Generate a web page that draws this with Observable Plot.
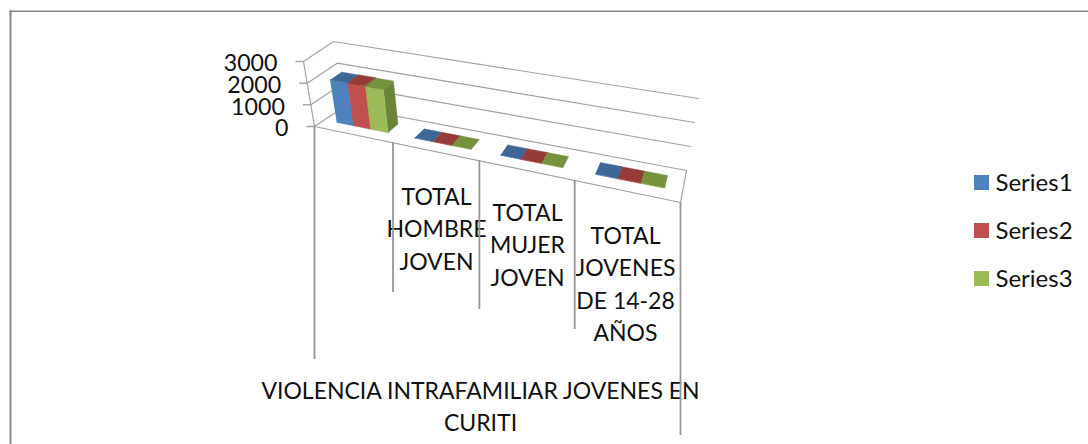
<!DOCTYPE html>
<html>
<head>
<meta charset="utf-8">
<style>html,body{margin:0;padding:0;background:#fff}svg{display:block}</style>
<script src="https://cdn.jsdelivr.net/npm/d3@7"></script>
<script src="https://cdn.jsdelivr.net/npm/@observablehq/plot@0.6"></script>
</head>
<body>
<div id="chart"></div>
<script>
// ---- data
const categories = [
  "VIOLENCIA INTRAFAMILIAR JOVENES EN\nCURITI",
  "TOTAL\nHOMBRE\nJOVEN",
  "TOTAL\nMUJER\nJOVEN",
  "TOTAL\nJOVENES\nDE 14-28\nAÑOS"
];
const seriesNames = ["Series1", "Series2", "Series3"];
const series1 = [1950, 12, 18, 30];
const series2 = [1960, 10, 15, 25];
const series3 = [1950, 11, 16, 27];
const valueTicks = [0, 1000, 2000, 3000];

// ---- styles
const front = ["#4F81BD", "#C0504D", "#9BBB59"];
const topFace = ["#3E6797", "#953C39", "#76923C"];
const sideFace = ["#3A6090", "#8C3836", "#6A843A"];
const gridColor = "#a3a3a3", axisColor = "#969696", ink = "#111";
const FONT = 23, LINE = 32.4;

// ---- oblique projection of the Excel 3-D box: s along categories, d in depth, v value
const floor = {A: [314, 126], B: [680, 202], C: [686, 170], D: [344, 106]};
const roof = {A: [303, 61], B: [692, 130], C: [698, 98], D: [333, 41]};
const vMax = 3000, persp = 1.22;
const lerp = (a, b, t) => a + (b - a) * t;
function corner(q, p, d) {
  return [0, 1].map(i => lerp(lerp(q.A[i], q.B[i], p), lerp(q.D[i], q.C[i], p), d));
}
function project(s, d, v) {
  const p = s === 0 ? 0 : s / (s + persp * (1 - s));
  const f = corner(floor, p, d), r = corner(roof, p, d);
  return {x: lerp(f[0], r[0], v / vMax), y: lerp(f[1], r[1], v / vMax)};
}
const polys = [];
function poly(id, fill, pts) {
  pts.forEach(([s, d, v]) => polys.push({id, fill, ...project(s, d, v)}));
}
// bars: gap width 50% of a bar on each side, depth band as in the source chart
const nC = categories.length, D0 = 0.33, D1 = 0.72;
[series1, series2, series3].forEach((vals, k) => {
  vals.forEach((v, c) => {
    const s0 = (c + 1 / 6 + k * 2 / 9) / nC, s1 = (c + 1 / 6 + (k + 1) * 2 / 9) / nC;
    poly(`side${k}${c}`, sideFace[k], [[s1, D0, 0], [s1, D1, 0], [s1, D1, v], [s1, D0, v]]);
    poly(`front${k}${c}`, front[k], [[s0, D0, 0], [s1, D0, 0], [s1, D0, v], [s0, D0, v]]);
    poly(`top${k}${c}`, topFace[k], [[s0, D0, v], [s1, D0, v], [s1, D1, v], [s0, D1, v]]);
  });
});
const grid = [];
valueTicks.forEach(v => {
  const pts = v === 0 ? [[0,0,0],[0,1,0],[1,1,0],[1,0,0],[0,0,0]] : [[0,0,v],[0,1,v],[1,1,v]];
  pts.forEach(([s, d, w]) => grid.push({id: "g" + v, ...project(s, d, w)}));
});
[[0,0,0],[0,0,vMax]].forEach(([s, d, w]) => grid.push({id: "edge", ...project(s, d, w)}));

// ---- layout of the axis furniture
const dropEnds = [359, 292, 309, 329, 435];
const drops = dropEnds.map((y2, i) => {
  const pt = project(i / nC, 0, 0);
  return {x: pt.x, y1: pt.y, y2};
});
// label blocks: centre x, centre y of the first line
const labelPos = [
  {x: 480, y: 388}, {x: 436, y: 194}, {x: 527, y: 210}, {x: 625, y: 233}
];
const labels = categories.map((t, i) => ({
  t, x: labelPos[i].x,
  y: labelPos[i].y + (t.split("\n").length - 1) / 2 * LINE
}));
const ticks = valueTicks.map(v => ({v, ...project(0, 0, v)}));
const legend = seriesNames.map((name, i) => ({name, y: 175 + 48 * i, fill: front[i]}));

const plot = Plot.plot({
  width: 1088, height: 444,
  margin: 0,
  x: {domain: [0, 1088], range: [0, 1088], axis: null},
  y: {domain: [0, 444], range: [0, 444], axis: null},
  style: {fontFamily: "Lato, Carlito, sans-serif", background: "#fff"},
  marks: [
    Plot.link([0], {x1: () => 9, x2: () => 1088, y1: () => 10.7, y2: () => 10.7, stroke: "#868686", strokeWidth: 1.5}),
    Plot.link([0], {x1: () => 10, x2: () => 10, y1: () => 10, y2: () => 444, stroke: "#868686", strokeWidth: 2}),
    Plot.line(grid, {x: "x", y: "y", z: "id", stroke: gridColor, strokeWidth: 1.2}),
    Plot.link(ticks, {x1: d => d.x - 8, y1: "y", x2: "x", y2: "y", stroke: gridColor, strokeWidth: 1.4}),
    Plot.line(polys, {x: "x", y: "y", z: "id", fill: "fill", stroke: "fill", strokeWidth: 0.4}),
    Plot.text(labels, {x: "x", y: "y", text: "t", fontSize: FONT, lineHeight: LINE / FONT,
      lineAnchor: "middle", textAnchor: "middle", fill: ink}),
    Plot.ruleX(drops, {x: "x", y1: "y1", y2: "y2", stroke: axisColor, strokeWidth: 1.8}),
    Plot.text(ticks, {x: d => d.x - 26, y: d => d.y + 2.5, text: d => String(d.v), fontSize: 23.2,
      textAnchor: "end", fill: ink}),
    Plot.rect(legend, {x1: () => 974, x2: () => 989, y1: "y", y2: d => d.y + 15, fill: "fill"}),
    Plot.text(legend, {x: () => 995, y: d => d.y + 8, text: "name", fontSize: 24,
      textAnchor: "start", fill: ink})
  ]
});
document.getElementById("chart").appendChild(plot);
</script>
</body>
</html>
